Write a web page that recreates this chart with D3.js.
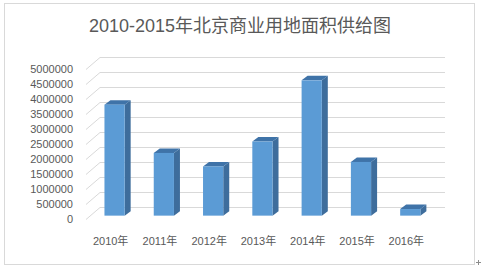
<!DOCTYPE html>
<html>
<head>
<meta charset="utf-8">
<script src="https://cdn.jsdelivr.net/npm/d3@7"></script>
<style>
  body { margin: 0; background: #fff; }
  svg { display: block; }
</style>
</head>
<body>
<div id="chart"></div>
<script>
const years = ["2010年", "2011年", "2012年", "2013年", "2014年", "2015年", "2016年"];
const supply = [3700000, 2090000, 1640000, 2470000, 4510000, 1790000, 220000];
const yTicks = [0, 500000, 1000000, 1500000, 2000000, 2500000, 3000000, 3500000, 4000000, 4500000, 5000000];
const title = "2010-2015年北京商业用地面积供给图";

const width = 481;
const height = 270;
const font = "'Liberation Sans', 'Noto Sans CJK SC', sans-serif";

// 3D wall depth (front edge -> back wall)
const depthX = 14, depthY = -12;
// bar sits part way into the depth
const barT = 0.28;
const barDX = 6, barDY = -4.5;

const svg = d3.select("#chart")
  .append("svg")
  .attr("width", width)
  .attr("height", height);

// chart border
svg.append("rect")
  .attr("x", 4.5).attr("y", 3.5)
  .attr("width", 470).attr("height", 261)
  .attr("fill", "#fff")
  .attr("stroke", "#d9d9d9");

// little anchor mark bottom right
svg.append("path")
  .attr("d", "M476,262.5h5M478.5,260v5")
  .attr("stroke", "#8c8c8c")
  .attr("stroke-width", 1);

svg.append("text")
  .attr("x", 240).attr("y", 32)
  .attr("text-anchor", "middle")
  .style("font-family", font)
  .style("font-size", "18px")
  .style("fill", "#595959")
  .text(title);

// scales on front plane
const x = d3.scaleBand()
  .domain(years)
  .range([86, 431])
  .paddingInner(0.59)
  .paddingOuter(0.295);

const y = d3.scaleLinear()
  .domain([0, 5000000])
  .range([219, 69]);

// gridlines: side wall diagonal + back wall horizontal
const grid = svg.append("g")
  .attr("stroke", "#d9d9d9")
  .attr("fill", "none")
  .attr("stroke-width", 1);

grid.selectAll("path")
  .data(yTicks)
  .enter()
  .append("path")
  .attr("d", d => {
    const yf = y(d) + 0.5;
    return `M86,${yf}L${86 + depthX},${yf + depthY}L${431 + depthX},${yf + depthY}`;
  });

// y labels
svg.append("g")
  .selectAll("text")
  .data(yTicks)
  .enter()
  .append("text")
  .attr("x", 73)
  .attr("y", d => y(d))
  .attr("dy", "0.35em")
  .attr("text-anchor", "end")
  .style("font-family", font)
  .style("font-size", "11px")
  .style("fill", "#595959")
  .text(d => d);

// x labels
svg.append("g")
  .selectAll("text")
  .data(years)
  .enter()
  .append("text")
  .attr("x", d => x(d) + x.bandwidth() / 2)
  .attr("y", 245)
  .attr("text-anchor", "middle")
  .style("font-family", font)
  .style("font-size", "11px")
  .style("fill", "#595959")
  .text(d => d);

// 3D bars
const offX = depthX * barT, offY = depthY * barT;
const bars = svg.append("g")
  .selectAll("g")
  .data(years.map((yr, i) => ({ year: yr, value: supply[i] })))
  .enter()
  .append("g");

const geom = d => {
  const x0 = x(d.year) + offX;
  const x1 = x0 + x.bandwidth();
  const yb = y(0) + offY;
  const yt = y(d.value) + offY;
  return { x0, x1, yb, yt };
};

// side face
bars.append("path")
  .attr("d", d => {
    const g = geom(d);
    return `M${g.x1},${g.yt}L${g.x1 + barDX},${g.yt + barDY}L${g.x1 + barDX},${g.yb + barDY}L${g.x1},${g.yb}Z`;
  })
  .attr("fill", "#3e6d9c");

// top face
bars.append("path")
  .attr("d", d => {
    const g = geom(d);
    return `M${g.x0},${g.yt}L${g.x1},${g.yt}L${g.x1 + barDX},${g.yt + barDY}L${g.x0 + barDX},${g.yt + barDY}Z`;
  })
  .attr("fill", "#3f73a8");

// front face
bars.append("rect")
  .attr("x", d => geom(d).x0)
  .attr("y", d => geom(d).yt)
  .attr("width", x.bandwidth())
  .attr("height", d => geom(d).yb - geom(d).yt)
  .attr("fill", "#5b9bd5");
</script>
</body>
</html>
